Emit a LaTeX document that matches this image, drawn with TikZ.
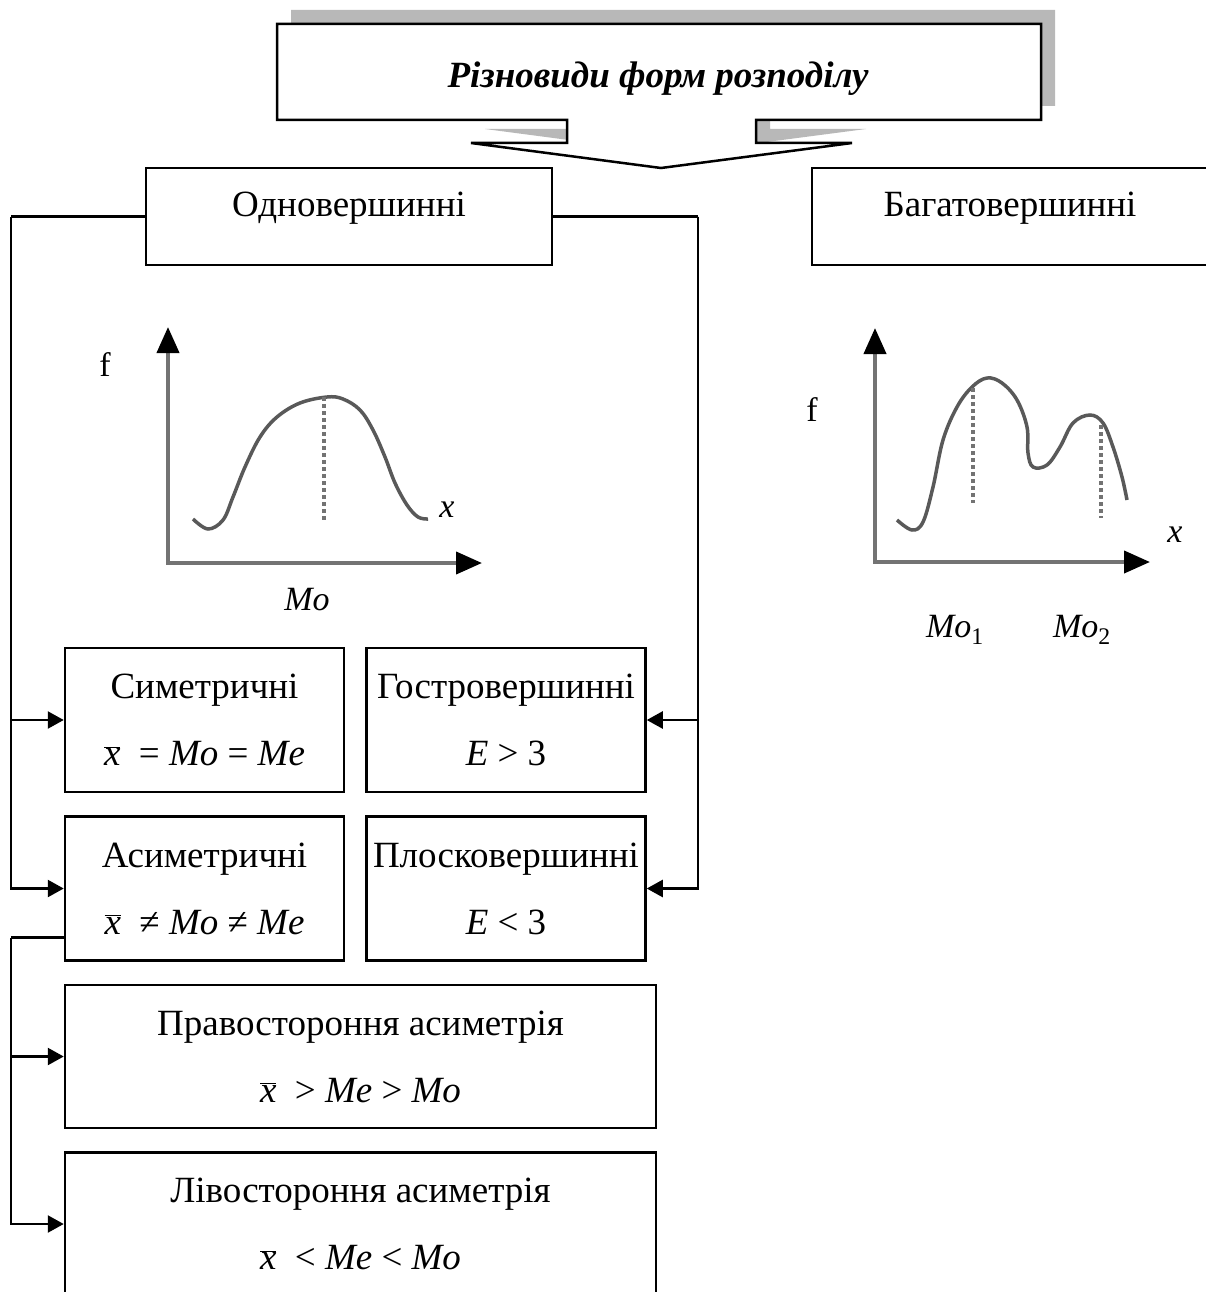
\documentclass[tikz,border=0pt]{standalone}
\usepackage{fontspec}
\setmainfont{Liberation Serif}
\usetikzlibrary{arrows.meta,positioning}
\definecolor{axisgray}{gray}{0.45}
\definecolor{curvegray}{gray}{0.35}
\definecolor{dashgray}{gray}{0.45}
\definecolor{shadowgray}{gray}{0.72}
\newcommand{\xbar}{\ensuremath{\overline{\textit{x}}}}

\begin{document}
\begin{tikzpicture}[x=1pt,y=-1pt,
  box/.style={draw,line width=2.5pt,inner sep=0pt,align=center,font=\fontsize{37}{67}\selectfont},
  link/.style={line width=2.4pt},
  linkto/.style={link,-{Triangle[length=16pt,width=17pt]}},
  axes/.style={line width=4pt,draw=axisgray,
    {Triangle[length=26pt,width=22pt,color=black]}-{Triangle[length=26pt,width=22pt,color=black]}},
  curve/.style={line width=3.5pt,draw=curvegray},
  mode/.style={line width=4pt,draw=dashgray,dash pattern=on 4pt off 3pt},
  lbl/.style={font=\fontsize{34}{36}\selectfont}]
\useasboundingbox (0,0) rectangle (1205,1292);
%
% title callout with its shadow
\newcommand{\callout}{(277,24) -- (1041,24) -- (1041,120) -- (756,120) -- (756,143)
  -- (852,143) -- (661,168) -- (471,143) -- (567,143) -- (567,120) -- (277,120) -- cycle}
\fill[shadowgray,shift={(14,-14)}] \callout;
\filldraw[fill=white,line width=2.5pt] \callout;
\node[font=\fontsize{37}{40}\selectfont\bfseries\itshape,anchor=base] (title) at (658,88)
  {Різновиди форм розподілу};
%
% first level
\node[box,minimum width=406pt,minimum height=97pt,text height=24pt,text depth=24pt]
  (uni) at (349,216.5) {Одновершинні};
\node[box,minimum width=396pt,minimum height=97pt,text height=24pt,text depth=24pt]
  (multi) at (1010,216.5) {Багатовершинні};
%
% kinds of one-peak curves
\node[box,minimum width=279pt,minimum height=144pt] (sym) at (204.5,720)
  {Симетричні\\ \xbar\ \ = \textit{Mo} = \textit{Me}};
\node[box,minimum width=279pt,minimum height=144pt,right=20pt of sym] (sharp)
  {Гостровершинні\\ \textit{E} > 3};
\node[box,minimum width=279pt,minimum height=144pt,below=22pt of sym] (asym)
  {Асиметричні\\ \xbar\ \ ≠ \textit{Mo} ≠ \textit{Me}};
\node[box,minimum width=279pt,minimum height=144pt,below=22pt of sharp] (flat)
  {Плосковершинні\\ \textit{E} < 3};
\node[box,minimum width=591pt,minimum height=143pt] (rskew) at (360.5,1056.5)
  {Правостороння асиметрія\\ \xbar\ \ > \textit{Me} > \textit{Mo}};
\node[box,minimum width=591pt,minimum height=143pt,below=22pt of rskew] (lskew)
  {Лівостороння асиметрія\\ \xbar\ \ < \textit{Me} < \textit{Mo}};
%
% connectors
\draw[link] (uni.west) -- ++(-134,0) coordinate (lbus);
\draw[linkto] (lbus) |- (sym.west);
\draw[linkto] (lbus) |- (asym.west);
\draw[link] (uni.east) -- ++(145,0) coordinate (rbus);
\draw[linkto] (rbus) |- (sharp.east);
\draw[linkto] (rbus) |- (flat.east);
\draw[link] ([yshift=-49pt]asym.west) -- ++(-53,0) coordinate (sbus);
\draw[linkto] (sbus) |- (rskew.west);
\draw[linkto] (sbus) |- (lskew.west);
%
% one-peak curve
\draw[axes] (168,327) -- (168,563) -- (482,563);
\draw[curve] plot[smooth,tension=0.6] coordinates {(193,519) (208,529) (223,520) (233,497)
  (245,467) (260,437) (277,417) (300,403) (327,397) (343,399) (360,410) (373,430)
  (385,457) (395,483) (407,505) (418,517) (428,519)};
\draw[mode] (324,397) -- (324,520);
\node[lbl] (f1) at (105,365) {f};
\node[lbl] (x1) at (447,510) {\textit{x}};
\node[lbl] (mo) at (307,600) {\textit{Mo}};
%
% two-peak curve
\draw[axes] (875,328) -- (875,562) -- (1150,562);
\draw[curve] plot[smooth,tension=0.6] coordinates {(897,520) (912,530) (923,522) (933,487)
  (943,440) (957,407) (972,387) (987,378) (1002,383) (1017,400) (1027,427) (1028,453)
  (1033,467) (1047,465) (1060,447) (1073,423) (1090,415) (1103,423) (1113,447)
  (1122,477) (1127,500)};
\draw[mode] (973,388) -- (973,503);
\draw[mode] (1101,425) -- (1101,518);
\node[lbl] (f2) at (812,410) {f};
\node[lbl] (x2) at (1175,535) {\textit{x}};
\node[lbl] (mo1) at (955,630) {\textit{Mo}\textsubscript{1}};
\node[lbl] (mo2) at (1082,630) {\textit{Mo}\textsubscript{2}};
%
\end{tikzpicture}
\end{document}
